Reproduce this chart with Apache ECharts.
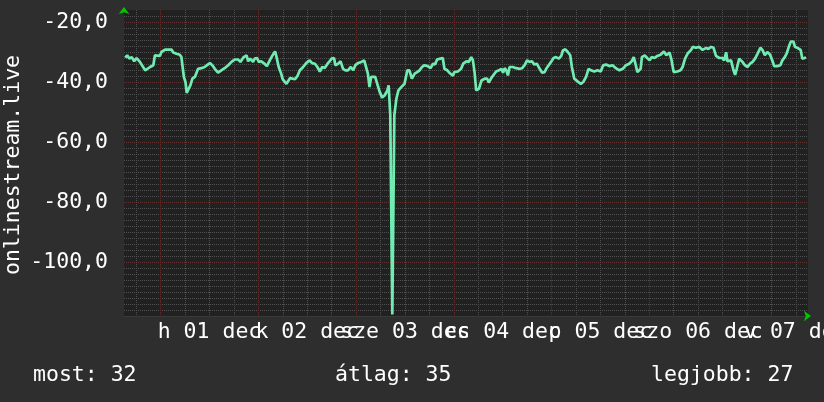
<!DOCTYPE html>
<html>
<head>
<meta charset="utf-8">
<script src="https://cdn.jsdelivr.net/npm/echarts@6/dist/echarts.min.js"></script>
<style>
html,body{margin:0;padding:0;background:#2e2e2e;}
#chart{width:824px;height:402px;}
</style>
</head>
<body>
<div id="chart"></div>
<script>
// hours relative to Dec 01 00:00
const hours = [
-8.7,-8.2,-7.7,-7.1,-6.5,-5.9,-5.1,-3.8,-2.6,-1.8,-1.4,-1.0,-0.2,0.2,1.1,2.7,3.1,3.9,4.7,5.1,5.7,6.1,6.4,6.9,7.3,7.8,8.4,9.2,10.0,10.8,11.4,12.1,12.7,13.3,14.1,14.9,15.7,16.6,17.4,18.2,19.0,19.6,20.4,21.1,21.5,22.0,22.7,23.1,23.7,24.1,24.7,25.5,26.1,26.8,27.4,28.1,28.4,29.0,29.6,30.0,30.9,31.2,31.8,
32.2,33.0,33.6,34.2,35.0,35.8,36.6,37.2,37.9,38.5,39.1,39.7,40.3,41.0,41.5,42.0,42.6,42.9,43.6,44.2,44.8,45.4,46.0,46.7,47.3,47.8,48.5,49.3,50.0,50.4,50.9,51.3,51.7,52.7,53.2,53.8,54.4,55.0,55.7,56.0,56.4,56.9,57.4,57.9,58.4,59.1,59.9,60.6,61.1,61.7,62.4,63.0,63.6,64.2,64.8,65.6,66.3,66.9,67.4,67.9,68.7,69.3,69.7,70.4,70.9,71.8,72.1,73.0,73.8,
74.3,75.1,75.7,76.3,76.7,77.1,77.5,78.2,78.8,79.6,80.2,80.6,81.2,81.8,82.4,83.1,83.7,84.1,84.5,84.9,85.3,85.7,86.5,87.3,88.2,88.8,89.4,90.0,90.6,91.2,91.8,92.4,93.1,93.7,94.3,94.7,95.3,95.9,96.5,97.1,97.8,98.4,98.8,99.4,100.0,100.6,101.0,101.6,102.4,103.2,103.8,104.5,105.1,105.7,106.5,107.3,108.1,108.7,109.4,110.2,111.0,111.8,112.7,113.5,114.3,115.1,115.7,116.2,116.7,
117.1,117.4,117.9,118.2,118.9,119.5,120.1,120.6,121.3,122.0,122.8,123.6,124.2,125.0,125.5,126.0,126.9,127.7,128.2,128.8,129.5,130.3,130.7,131.5,132.3,133.1,134.0,134.5,135.2,135.8,136.4,137.2,138.0,138.4,138.9,139.2,140.1,140.7,141.1,141.5,142.1,142.9,143.5,144.1,144.8,145.4,146.0,146.6,147.3,147.8,148.4,149.0,149.7,150.3,150.7,151.5,152.2,152.7,153.3,153.8,154.4,154.8,155.4,155.8,156.4,156.8,157.2,157.6,158.2,158.5
];
const values = [
-31.9,-31.1,-32.2,-31.7,-33.1,-32.0,-33.3,-36.1,-35.0,-34.4,-31.1,-31.7,-31.3,-30.0,-29.2,-29.2,-30.2,-30.6,-30.9,-31.7,-38.3,-40.0,-43.6,-42.2,-41.1,-38.9,-38.3,-35.6,-35.4,-35.0,-34.4,-33.7,-34.4,-35.6,-36.9,-36.1,-35.4,-34.4,-33.3,-32.5,-32.5,-33.3,-31.7,-31.1,-33.1,-32.2,-33.3,-32.2,-32.0,-33.3,-33.1,-33.9,-34.7,-32.8,-31.3,-29.8,-31.3,-35.0,-37.2,-39.1,-40.6,-40.2,-38.7,
-38.9,-39.1,-38.0,-36.1,-35.0,-33.6,-32.8,-33.7,-33.9,-35.0,-36.5,-35.0,-35.3,-33.9,-33.1,-32.2,-32.0,-34.4,-33.9,-33.1,-35.6,-36.1,-36.1,-35.0,-36.1,-34.4,-33.7,-33.3,-32.8,-32.5,-37.2,-41.7,-38.3,-38.3,-40.6,-43.3,-45.2,-44.5,-42.8,-41.1,-51.0,-117.5,-51.0,-45.6,-42.8,-41.7,-40.6,-36.1,-36.1,-38.9,-37.2,-36.7,-36.1,-35.0,-34.4,-34.7,-35.4,-33.9,-34.2,-32.5,-32.2,-32.0,-35.6,-36.1,-36.9,-37.9,-36.7,-36.5,-35.6,
-33.9,-33.1,-33.3,-31.7,-32.8,-36.7,-42.8,-42.2,-39.5,-38.9,-38.9,-40.2,-38.7,-37.6,-36.5,-36.1,-35.6,-36.9,-35.4,-36.1,-37.8,-35.0,-35.0,-35.4,-35.6,-35.4,-34.4,-32.8,-33.3,-33.1,-34.2,-33.9,-35.6,-36.9,-36.7,-35.6,-34.4,-33.3,-32.0,-31.7,-32.2,-31.3,-29.5,-29.1,-30.0,-31.1,-35.0,-38.9,-39.8,-40.6,-40.0,-38.3,-35.6,-36.1,-36.5,-36.1,-36.5,-34.4,-34.2,-34.7,-34.4,-35.4,-36.1,-35.6,-34.4,-33.9,-33.1,-31.7,-34.4,
-36.7,-36.7,-35.6,-31.7,-31.1,-32.0,-32.8,-31.7,-32.0,-31.3,-30.9,-29.8,-31.1,-30.2,-32.8,-36.7,-36.5,-36.1,-35.0,-32.2,-30.4,-29.3,-28.3,-28.6,-28.3,-29.3,-28.6,-29.0,-28.3,-28.6,-31.3,-32.0,-32.0,-32.8,-30.1,-33.1,-32.8,-36.1,-37.6,-35.6,-32.2,-33.3,-34.4,-35.0,-33.9,-33.3,-32.2,-30.6,-28.6,-29.3,-31.1,-30.0,-30.9,-33.1,-34.7,-34.7,-34.4,-32.8,-31.7,-30.4,-27.8,-26.5,-26.5,-28.3,-28.6,-28.3,-29.3,-32.2,-32.0,-31.7
];
const dayLabels = ['h 01 dec','k 02 dec','sze 03 dec','cs 04 dec','p 05 dec','szo 06 dec','v 07 dec'];
const yTickValues = [-20,-40,-60,-80,-100];
const yTickLabels = ['-20,0','-40,0','-60,0','-80,0','-100,0'];
const statNames = ['most','átlag','legjobb'];
const statValues = [32,35,27];
const axisTitle = 'onlinestream.live';

const FONT = 'DejaVu Sans Mono';
const FS = 21.5;
const GRAY = '#505050';
const RED = '#633030';
const NONE = 'rgba(0,0,0,0)';
// x ticks every 3h starting at -9h: lines every 6h, red at day boundaries
const xGridColors = [NONE, GRAY, NONE, RED, NONE, GRAY, NONE, GRAY];
// y ticks every 2 starting at -118: red at multiples of 20
const yGridColors = [GRAY,GRAY,GRAY,GRAY,GRAY,GRAY,GRAY,GRAY,GRAY,RED];

const statLeft = [33, 335, 651];

const chart = echarts.init(document.getElementById('chart'), null, {renderer: 'canvas'});
chart.setOption({
  animation: false,
  backgroundColor: '#2e2e2e',
  textStyle: {fontFamily: FONT},
  title: statNames.map((n, i) => ({
    text: n + ': ' + statValues[i],
    left: statLeft[i],
    top: 364,
    padding: 0,
    textStyle: {color: '#ffffff', fontFamily: FONT, fontSize: FS, fontWeight: 'normal'}
  })),
  graphic: [{
    type: 'text',
    x: 13, y: 165,
    rotation: Math.PI / 2,
    style: {text: axisTitle, fill: '#ffffff', font: FS + 'px "' + FONT + '"', align: 'center', verticalAlign: 'middle'}
  }],
  grid: {left: 124, right: 16, top: 10, bottom: 86, show: true, backgroundColor: '#212121', borderWidth: 0,
    containLabel: false, outerBoundsMode: 'none'},
  xAxis: [{
    type: 'value', min: -9, max: 159, interval: 3, position: 'bottom',
    axisLine: {show: true, onZero: false, lineStyle: {color: '#3a3a3a', width: 1}},
    axisTick: {show: false},
    axisLabel: {
      color: '#ffffff', fontFamily: FONT, fontSize: FS, margin: 5, hideOverlap: false,
      formatter: function (v) {
        const k = (v - 12) / 24;
        return (Number.isInteger(k) && dayLabels[k]) ? dayLabels[k] : '';
      }
    },
    splitLine: {show: true, lineStyle: {color: xGridColors, type: 'dotted', width: 1}}
  }, {
    type: 'value', min: -9, max: 159, position: 'bottom',
    axisLine: {show: true, onZero: false, symbol: ['none', 'arrow'], symbolSize: [8, 7], symbolOffset: [0, 3],
      lineStyle: {color: '#00c800', width: 0}},
    axisTick: {show: false}, axisLabel: {show: false}, splitLine: {show: false}
  }],
  yAxis: [{
    type: 'value', min: -118, max: -16, interval: 2, position: 'left',
    axisLine: {show: false, onZero: false},
    axisTick: {show: false},
    axisLabel: {
      color: '#ffffff', fontFamily: FONT, fontSize: FS, margin: 16,
      formatter: function (v) {
        const i = yTickValues.indexOf(v);
        return i >= 0 ? yTickLabels[i] : '';
      }
    },
    splitLine: {show: true, showMaxLine: false, lineStyle: {color: yGridColors, type: 'dotted', width: 1}}
  }, {
    type: 'value', min: -118, max: -16, position: 'left',
    axisLine: {show: true, onZero: false, symbol: ['none', 'arrow'], symbolSize: [8, 7], symbolOffset: [0, 3],
      lineStyle: {color: '#00c800', width: 0}},
    axisTick: {show: false}, axisLabel: {show: false}, splitLine: {show: false}
  }],
  series: [{
    type: 'line',
    xAxisIndex: 0, yAxisIndex: 0,
    data: hours.map((h, i) => [h, values[i]]),
    showSymbol: false,
    symbol: 'none',
    lineStyle: {color: '#70ecb2', width: 2.7},
    z: 5
  }]
});
</script>
</body>
</html>
